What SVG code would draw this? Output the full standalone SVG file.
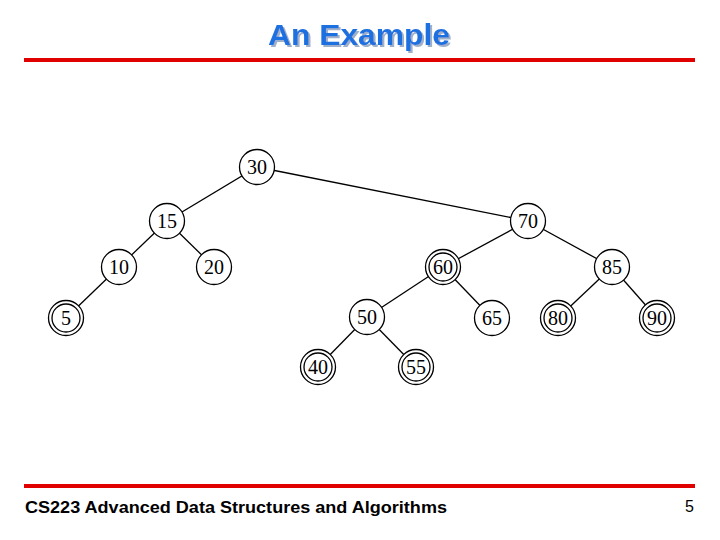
<svg xmlns="http://www.w3.org/2000/svg" width="720" height="540" viewBox="0 0 720 540">
<style>
.n{fill:#fff;stroke:#000;stroke-width:1.3}
.t{font-family:"Liberation Serif",serif;font-size:20px;text-anchor:middle;fill:#000}
.e{stroke:#000;stroke-width:1.3}
</style>
<defs>
<g id="dc"><circle class="n" r="17.5"/><circle class="n" r="14"/></g>
<filter id="sh" x="-10%" y="-20%" width="120%" height="150%"><feDropShadow dx="2" dy="2" stdDeviation="0.6" flood-color="#9fb0c8"/></filter>
</defs>
<rect width="720" height="540" fill="#fff"/>
<text x="359" y="45" font-family="Liberation Sans,Arial,sans-serif" font-weight="bold" font-size="30" text-anchor="middle" fill="#1f6fe0" filter="url(#sh)" textLength="182" lengthAdjust="spacingAndGlyphs">An Example</text>
<rect x="24" y="58" width="671" height="4" fill="#e00000"/>
<rect x="24" y="484" width="671" height="4" fill="#e00000"/>
<text x="25" y="513" font-family="Liberation Sans,Arial,sans-serif" font-weight="bold" font-size="16" fill="#000" textLength="422" lengthAdjust="spacingAndGlyphs">CS223 Advanced Data Structures and Algorithms</text>
<text x="694" y="512" font-family="Liberation Sans,Arial,sans-serif" font-size="16" text-anchor="end" fill="#000">5</text>
<g id="edges">
<line class="e" x1="257" y1="167" x2="167" y2="221"/>
<line class="e" x1="257" y1="167" x2="528" y2="221"/>
<line class="e" x1="167" y1="221" x2="119" y2="267"/>
<line class="e" x1="167" y1="221" x2="214" y2="267"/>
<line class="e" x1="119" y1="267" x2="66" y2="318"/>
<line class="e" x1="528" y1="221" x2="443" y2="267"/>
<line class="e" x1="528" y1="221" x2="612" y2="267"/>
<line class="e" x1="443" y1="267" x2="367" y2="317"/>
<line class="e" x1="443" y1="267" x2="492" y2="318"/>
<line class="e" x1="612" y1="267" x2="558" y2="318"/>
<line class="e" x1="612" y1="267" x2="657" y2="318"/>
<line class="e" x1="367" y1="317" x2="318" y2="367"/>
<line class="e" x1="367" y1="317" x2="416" y2="367"/>
</g>
<g id="n30"><circle class="n" cx="257" cy="167" r="17.5"/><text class="t" x="257" y="174">30</text></g>
<g id="n15"><circle class="n" cx="167" cy="221" r="17.5"/><text class="t" x="167" y="228">15</text></g>
<g id="n10"><circle class="n" cx="119" cy="267" r="17.5"/><text class="t" x="119" y="274">10</text></g>
<g id="n20"><circle class="n" cx="214" cy="267" r="17.5"/><text class="t" x="214" y="274">20</text></g>
<g id="n5"><use href="#dc" x="66" y="318"/><text class="t" x="66" y="325">5</text></g>
<g id="n70"><circle class="n" cx="528" cy="221" r="17.5"/><text class="t" x="528" y="228">70</text></g>
<g id="n60"><use href="#dc" x="443" y="267"/><text class="t" x="443" y="274">60</text></g>
<g id="n85"><circle class="n" cx="612" cy="267" r="17.5"/><text class="t" x="612" y="274">85</text></g>
<g id="n50"><circle class="n" cx="367" cy="317" r="17.5"/><text class="t" x="367" y="324">50</text></g>
<g id="n65"><circle class="n" cx="492" cy="318" r="17.5"/><text class="t" x="492" y="325">65</text></g>
<g id="n80"><use href="#dc" x="558" y="318"/><text class="t" x="558" y="325">80</text></g>
<g id="n90"><use href="#dc" x="657" y="318"/><text class="t" x="657" y="325">90</text></g>
<g id="n40"><use href="#dc" x="318" y="367"/><text class="t" x="318" y="374">40</text></g>
<g id="n55"><use href="#dc" x="416" y="367"/><text class="t" x="416" y="374">55</text></g>
</svg>
